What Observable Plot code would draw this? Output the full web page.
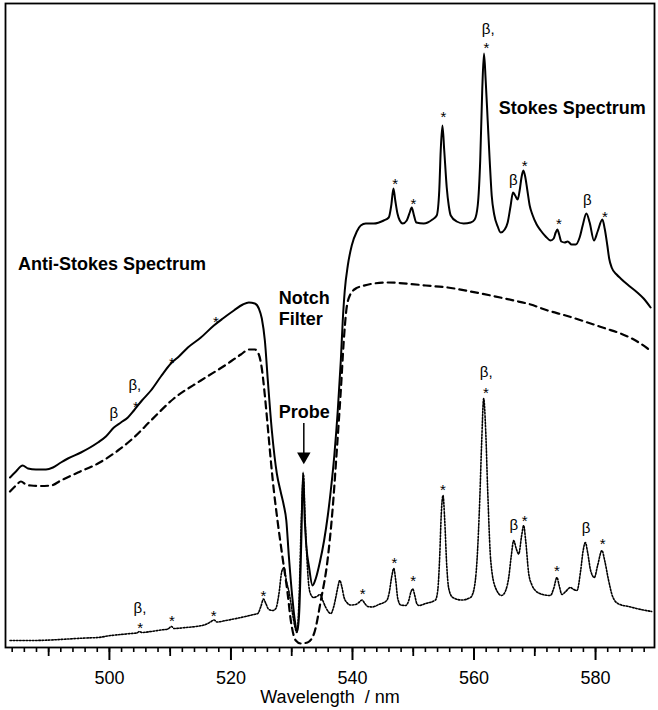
<!DOCTYPE html>
<html>
<head>
<meta charset="utf-8">
<script src="https://cdn.jsdelivr.net/npm/d3@7"></script>
<script src="https://cdn.jsdelivr.net/npm/@observablehq/plot@0.6"></script>
<style>
  html, body { margin: 0; padding: 0; background: #fff; }
  #chart { width: 658px; height: 710px; }
  svg { font-family: "Liberation Sans", Arial, Helvetica, sans-serif; }
</style>
</head>
<body>
<div id="chart"></div>
<script>
// Wavelength (nm), intensity (arbitrary units)
const sampleSpectrum = [
  [483.64,170],[484.62,176],[485.72,182],[486.60,179],[487.91,178],[489.56,178],[490.71,180],[492.02,185],
  [493.17,189],[495.31,195],[498.11,205],[499.42,211],[500.74,220],[501.89,225],[503.04,230],[504.03,237],
  [505.35,247],[506.83,257],[508.47,271],[510.12,284],[511.43,291],[512.91,300],[515.05,310],[517.19,322],
  [518.67,329],[520.48,337],[521.96,343],[522.94,345],[523.93,344],[524.59,339],[525.08,329],[525.58,307],
  [526.07,267],[526.73,217],[527.55,174],[528.21,155],[528.70,142],[529.11,127],[529.52,92],[530.10,50],
  [530.51,27],[530.92,16],[531.25,37],[531.58,107],[531.87,175],[532.15,127],[532.40,102],[532.86,80],
  [533.42,62],[533.96,69],[534.62,85],[535.33,107],[535.94,132],[536.43,157],[537.01,192],[537.58,237],
  [538.08,287],[538.40,327],[538.73,357],[539.23,382],[539.88,402],[540.71,416],[541.36,422],[542.19,424],
  [543.50,424],[545.15,427],[545.97,430],[546.38,442],[546.74,459],[547.04,447],[547.40,434],[547.78,427],
  [548.27,424],[548.93,427],[549.42,435],[549.75,440],[550.08,433],[550.49,425],[551.73,424],[553.16,428],
  [553.86,432],[554.28,457],[554.52,497],[554.80,522],[555.10,497],[555.51,460],[555.84,442],[556.17,432],
  [557.15,426],[558.30,424],[559.46,425],[560.11,428],[560.61,442],[561.02,487],[561.35,557],[561.64,594],
  [561.92,567],[562.25,527],[562.58,487],[562.91,452],[563.32,433],[563.90,421],[564.39,415],[565.05,418],
  [565.54,425],[566.03,442],[566.41,455],[566.77,452],[567.19,448],[567.51,457],[567.84,471],[568.12,477],
  [568.42,471],[568.78,457],[569.16,442],[569.60,433],[570.31,423],[570.97,417],[571.79,411],[572.61,407],
  [573.11,409],[573.44,415],[573.72,418],[574.01,413],[574.37,406],[574.92,405],[575.41,406],[576.07,403],
  [576.73,403],[577.38,410],[577.88,422],[578.49,434],[579.03,425],[579.74,407],[580.34,416],[581.12,428],
  [581.50,419],[581.94,402],[582.24,389],[582.65,380],[583.47,373],[584.13,369],[585.44,362],[586.87,355],
  [587.91,349],[589.06,340]
];

const backgroundSpectrum = [
  [483.64,156],[484.62,162],[485.44,166],[486.27,163],[487.09,162],[488.73,161.5],[490.38,162],[492.02,167],
  [494.82,175],[498.11,184],[501.40,197],[504.03,210],[506.83,227],[510.61,249],[515.05,267],[519.49,284],
  [521.63,293],[522.94,298],[523.93,298],[524.59,293],[525.08,279],[525.58,252],[526.07,220],[526.56,187],
  [527.06,157],[527.66,127],[528.49,90],[529.31,55],[529.85,27],[530.67,7],[531.50,4],[532.60,5],
  [533.68,14],[534.79,47],[535.89,87],[536.71,137],[537.42,197],[538.08,257],[538.57,307],[538.98,337],
  [539.56,352],[540.54,359],[541.69,361.5],[543.01,363.5],[545.80,365],[549.59,363.5],[552.05,362],[555.67,360],
  [559.46,356],[562.75,352],[566.53,347],[569.32,343],[572.12,337],[575.08,332],[578.70,325],[581.66,319],
  [584.13,314],[586.59,307],[588.57,299],[589.23,296]
];

const ramanSpectrum = [
  [483.64,7],[487.09,7],[490.38,7.5],[493.17,8.5],[496.14,9.5],[498.11,10],[500.25,12],[501.89,13],
  [503.54,14],[504.52,14.5],[504.93,16],[505.35,15],[506.83,16],[508.47,17.5],[509.62,18.5],[510.23,21],
  [510.61,19],[512.58,20],[514.23,21],[516.04,23.5],[516.61,25.5],[517.24,27.5],[517.68,25.5],[519.16,27],
  [521.63,30],[523.77,33],[524.42,34],[524.92,41],[525.36,48.5],[525.74,44],[526.23,38],[526.89,37],
  [527.38,39],[527.88,53],[528.37,76],[528.75,80],[529.11,67],[529.57,55],[530.13,34],[530.51,21],
  [530.84,15],[531.17,42],[531.58,127],[531.94,173],[532.15,137],[532.40,102],[532.81,62],[533.14,53],
  [533.63,50],[534.13,51],[534.67,53],[535.11,47],[535.61,40],[536.43,34],[536.92,41],[537.25,50],
  [537.58,60],[537.91,67],[538.24,61],[538.62,50],[539.06,45],[539.72,42.5],[540.54,43],[541.04,45],
  [541.58,47.5],[542.02,44],[542.52,41],[543.22,40.5],[544.33,43],[545.64,47],[546.05,55],[546.46,71],
  [546.79,79],[547.12,67],[547.45,49],[547.94,42.5],[548.72,42],[549.26,47],[549.59,55],[549.92,58.5],
  [550.25,52],[550.58,44],[550.90,42],[552.05,44],[553.65,47.5],[554.03,57],[554.36,92],[554.60,132],
  [554.90,152],[555.18,127],[555.51,82],[555.84,59],[556.50,50],[557.98,47.5],[559.41,50],[559.95,57],
  [560.49,87],[560.94,147],[561.27,207],[561.59,249],[561.92,217],[562.25,157],[562.75,87],[563.52,60],
  [564.55,52],[565.21,57],[565.71,70],[566.12,91],[566.53,107],[566.94,99],[567.35,93.5],[567.84,112],
  [568.17,122],[568.50,107],[569.00,74],[569.49,63],[570.10,57],[571.30,53],[572.56,52],[573.11,59],
  [573.65,70],[574.01,62],[574.47,53],[575.08,56],[575.85,60],[576.40,58],[576.94,57],[577.55,77],
  [577.96,97],[578.32,105],[578.70,95],[579.19,77],[579.80,70],[580.34,82],[581.05,97],[581.50,87],
  [582.15,67],[582.81,51],[583.80,43.5],[585.44,41],[587.09,38.5],[589.23,36]
];

// Peak markers: [wavelength, intensity, text]
const peakLabels = [
  [500.74,234,"β"],[504.19,262,"β,"],[504.36,244,"*"],[510.28,288,"*"],[517.52,329,"*"],
  [547.01,467,"*"],[550.03,447,"*"],[554.97,534,"*"],[562.33,618,"β,"],[562.04,603,"*"],
  [566.48,467,"β"],[568.34,485,"*"],[573.98,427,"*"],[578.65,447,"β"],[581.54,434,"*"],
  [505.02,39,"β,"],[505.07,23,"*"],[510.28,30,"*"],[517.14,35,"*"],[525.36,55,"*"],
  [541.69,57,"*"],[546.91,88,"*"],[549.97,70,"*"],[554.90,161,"*"],[562.01,275,"β,"],
  [561.97,258,"*"],[566.53,122,"β"],[568.34,130,"*"],[573.65,80,"*"],[578.42,119,"β"],
  [581.17,107,"*"]
];

// Bold annotations: [wavelength, intensity, text]
const annotations = [
  [484.95,384,"Anti-Stokes Spectrum"],
  [527.88,339.5,"Notch\nFilter"],
  [527.88,236,"Probe"],
  [564.06,540,"Stokes Spectrum"]
];
const probeArrow = {wavelength: 531.99, from: 224, to: 185};

const xDomain = [482.9, 589.7];
const yDomain = [0, 644];
const majorTicks = [500, 520, 540, 560, 580];
const mediumTicks = [490, 510, 530, 550, 570];
const minorTicks = d3.range(484, 590, 2);
const xLabel = "Wavelength\u00a0 / nm";

const font = "'Liberation Sans', Arial, Helvetica, sans-serif";

const chart = Plot.plot({
  width: 658,
  height: 710,
  marginLeft: 5,
  marginRight: 4,
  marginTop: 3,
  marginBottom: 63,
  style: {fontFamily: font, background: "#fff", color: "#000"},
  x: {domain: xDomain},
  y: {domain: yDomain, axis: null},
  marks: [
    Plot.axisX({ticks: minorTicks, tickSize: 5, strokeWidth: 1.6, text: null, label: null}),
    Plot.axisX({ticks: mediumTicks, tickSize: 9, strokeWidth: 1.8, text: null, label: null}),
    Plot.axisX({ticks: majorTicks, tickSize: 13, strokeWidth: 2, tickPadding: 11, fontSize: 18,
      tickFormat: d => String(d), label: null}),
    Plot.text([xLabel], {frameAnchor: "bottom", dy: 43, lineAnchor: "top", fontSize: 18, text: d => d}),
    Plot.frame({stroke: "#000", strokeWidth: 1.8}),
    Plot.line(backgroundSpectrum, {x: d => d[0], y: d => d[1], stroke: "#000", strokeWidth: 2.2,
      strokeDasharray: "7,5", curve: "monotone-x"}),
    Plot.line(ramanSpectrum, {x: d => d[0], y: d => d[1], stroke: "#000", strokeWidth: 1.6,
      strokeDasharray: "1.6,1.6", curve: "monotone-x"}),
    Plot.line(sampleSpectrum, {x: d => d[0], y: d => d[1], stroke: "#000", strokeWidth: 2,
      curve: "monotone-x"}),
    Plot.text(peakLabels.filter(d => d[2] !== "*"), {x: d => d[0], y: d => d[1], text: d => d[2],
      fontSize: 15, fill: "#000"}),
    Plot.text(peakLabels.filter(d => d[2] === "*"), {x: d => d[0], y: d => d[1], text: d => d[2],
      fontSize: 15, dy: 4, fill: "#000"}),
    Plot.text(annotations, {x: d => d[0], y: d => d[1], text: d => d[2], textAnchor: "start",
      fontSize: 18, fontWeight: "bold", lineHeight: 1.17, fill: "#000"}),
    Plot.ruleX([probeArrow], {x: "wavelength", y1: "from", y2: "to", stroke: "#000", strokeWidth: 1.5}),
    Plot.dot([probeArrow], {x: "wavelength", y: d => d.to + 6, symbol: "triangle", rotate: 180, r: 5,
      fill: "#000", stroke: "none"})
  ]
});
document.getElementById("chart").appendChild(chart);
</script>
</body>
</html>
